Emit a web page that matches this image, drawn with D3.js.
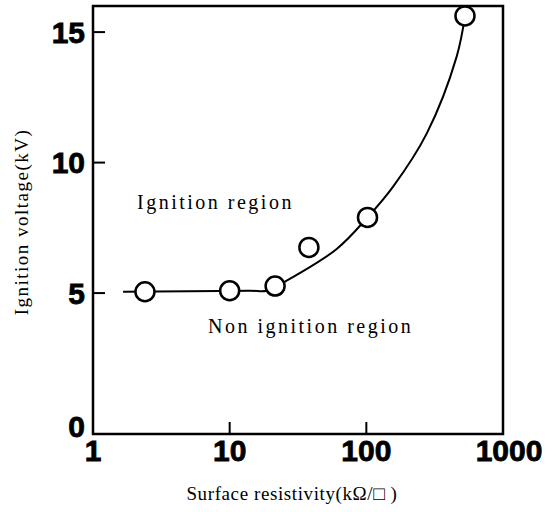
<!DOCTYPE html>
<html>
<head>
<meta charset="utf-8">
<script src="https://cdn.jsdelivr.net/npm/d3@7"></script>
<style>
  body { margin: 0; background: #fff; }
  svg { display: block; }
  .tick-label { font-family: "Liberation Sans", Arial, sans-serif; font-weight: bold; font-size: 30px; stroke: #000; stroke-width: 0.8px; }
  .note { font-family: "Liberation Serif", "Times New Roman", serif; font-size: 20px; letter-spacing: 2.5px; }
</style>
</head>
<body>
<svg id="chart" width="556" height="512"></svg>
<script>
// measured points (surface resistivity kOhm/sq, ignition voltage kV)
const resistivity = [2.4, 10, 21.5, 38, 102, 527];
const voltage = [5.05, 5.09, 5.27, 6.75, 7.9, 15.62];

// hand drawn fit curve
const curveX = [1.66, 14.1, 18.7, 25.4, 60.7, 102, 157, 277, 458, 527];
const curveY = [5.05, 5.09, 5.09, 5.44, 6.69, 7.9, 9.08, 11.12, 14.06, 15.62];

const xTicks = [1, 10, 100, 1000];
const yTicks = [0, 5, 10, 15];

const svg = d3.select("#chart");
const mLeft = 93, mRight = 503, mTop = 6, mBottom = 434;

const x = d3.scaleLog().domain([1, 1000]).range([mLeft, mRight]);
const y = d3.scaleLinear().domain([-0.4, 16]).range([mBottom, mTop]);

// frame
svg.append("rect")
  .attr("x", mLeft).attr("y", mTop)
  .attr("width", mRight - mLeft).attr("height", mBottom - mTop)
  .attr("fill", "none").attr("stroke", "#000").attr("stroke-width", 2.5);

// inward ticks
svg.selectAll("line.ytick")
  .data(yTicks.filter(d => d > 0))
  .join("line")
  .attr("class", "ytick")
  .attr("x1", mLeft).attr("x2", mLeft + 12)
  .attr("y1", d => y(d)).attr("y2", d => y(d))
  .attr("stroke", "#000").attr("stroke-width", 2);

svg.selectAll("line.xtick")
  .data(xTicks.slice(1, 3))
  .join("line")
  .attr("class", "xtick")
  .attr("x1", d => x(d)).attr("x2", d => x(d))
  .attr("y1", mBottom).attr("y2", mBottom - 12)
  .attr("stroke", "#000").attr("stroke-width", 2);

// tick labels
svg.selectAll("text.ylab")
  .data(yTicks)
  .join("text")
  .attr("class", "tick-label ylab")
  .attr("x", mLeft - 8)
  .attr("y", d => d === 0 ? y(d) + 3 : y(d))
  .attr("dy", "0.36em")
  .attr("text-anchor", "end")
  .text(d => d);

svg.selectAll("text.xlab")
  .data(xTicks)
  .join("text")
  .attr("class", "tick-label xlab")
  .attr("x", d => x(d) + (d === 1000 ? 6 : 0))
  .attr("y", 461)
  .attr("text-anchor", "middle")
  .text(d => d);

// curve
const line = d3.line()
  .x((d, i) => x(curveX[i]))
  .y(d => y(d))
  .curve(d3.curveCatmullRom.alpha(0.5));

svg.append("path")
  .attr("d", line(curveY))
  .attr("fill", "none").attr("stroke", "#000").attr("stroke-width", 2);

// points
svg.selectAll("circle.pt")
  .data(resistivity)
  .join("circle")
  .attr("class", "pt")
  .attr("cx", d => x(d))
  .attr("cy", (d, i) => y(voltage[i]))
  .attr("r", 9.5)
  .attr("fill", "#fff").attr("stroke", "#000").attr("stroke-width", 2.5);

// region notes
svg.append("text").attr("class", "note")
  .attr("x", 137).attr("y", 209).text("Ignition region");
svg.append("text").attr("class", "note")
  .attr("x", 208).attr("y", 333).text("Non ignition region");

// axis titles
svg.append("text").attr("class", "note")
  .attr("x", 292).attr("y", 500)
  .attr("text-anchor", "middle")
  .style("font-size", "19px").style("letter-spacing", "0.6px")
  .text("Surface resistivity(kΩ/\u25A1 )");

svg.append("text").attr("class", "note")
  .attr("transform", "translate(28,222) rotate(-90)")
  .attr("text-anchor", "middle")
  .style("font-size", "19px").style("letter-spacing", "1.5px")
  .text("Ignition voltage(kV)");
</script>
</body>
</html>
